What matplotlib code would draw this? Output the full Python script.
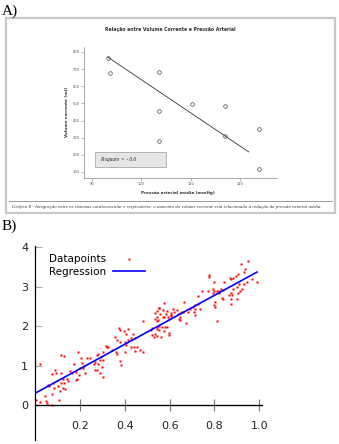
import matplotlib.pyplot as plt
from matplotlib.patches import Rectangle
from matplotlib.lines import Line2D

W, H = 339, 444

# ---- panel A data (SPSS screenshot) ----
pressao = [93.2, 93.6, 103.5, 103.5, 103.5, 110.2, 116.9, 116.9, 123.7, 123.7]
volume = [765, 677, 683, 453, 281, 497, 485, 310, 351, 117]
ajuste_x = [93.2, 121.7]
ajuste_y = [770, 217]
a_xticks = [90, 100, 110, 120]
a_yticks = [100, 200, 300, 400, 500, 600, 700, 800]
titulo_a = "Relação entre Volume Corrente e Pressão Arterial"
legenda_a = ("Gráfico 8 - Integração entre os sistemas cardiovascular e respiratório: "
             "o aumento do volume corrente está relacionado à redução da pressão arterial média.")

# ---- panel B data ----
b_x = [0.004, 0.02, 0.02, 0.044, 0.048, 0.051, 0.058, 0.063, 0.074, 0.076,
       0.076, 0.081, 0.084, 0.088, 0.093, 0.103, 0.108, 0.111, 0.114, 0.114,
       0.115, 0.123, 0.123, 0.129, 0.129, 0.133, 0.141, 0.148, 0.155, 0.163,
       0.173, 0.182, 0.188, 0.182, 0.19, 0.194, 0.20, 0.208, 0.215, 0.218,
       0.204, 0.222, 0.23, 0.245, 0.263, 0.267, 0.275, 0.267, 0.282, 0.275,
       0.279, 0.289, 0.297, 0.289, 0.301, 0.304, 0.304, 0.292, 0.316, 0.319,
       0.326, 0.342, 0.361, 0.364, 0.379, 0.383, 0.401, 0.405, 0.428, 0.483,
       0.446, 0.442, 0.456, 0.468, 0.358, 0.364, 0.379, 0.401, 0.416, 0.375,
       0.379, 0.396, 0.414, 0.405, 0.435, 0.428, 0.446, 0.483, 0.517, 0.535,
       0.542, 0.563, 0.52, 0.542, 0.553, 0.565, 0.58, 0.59, 0.542, 0.553,
       0.575, 0.596, 0.597, 0.52, 0.53, 0.535, 0.545, 0.554, 0.572, 0.557,
       0.583, 0.606, 0.62, 0.634, 0.646, 0.542, 0.569, 0.548, 0.599, 0.646,
       0.576, 0.664, 0.617, 0.638, 0.641, 0.654, 0.661, 0.681, 0.675, 0.691,
       0.713, 0.734, 0.703, 0.713, 0.727, 0.725, 0.715, 0.71, 0.746, 0.773,
       0.775, 0.776, 0.798, 0.792, 0.80, 0.81, 0.82, 0.828, 0.837, 0.795,
       0.822, 0.80, 0.803, 0.804, 0.81, 0.834, 0.837, 0.843, 0.87, 0.874,
       0.883, 0.896, 0.904, 0.919, 0.949, 0.937, 0.932, 0.967, 0.989, 0.946,
       0.931, 0.91, 0.90, 0.922, 0.914, 0.883, 0.904, 0.873, 0.865, 0.877,
       0.902, 0.873, 0.873, 0.553, 0.587, 0.606, 0.605, 0.646, 0.594, 0.575,
       0.535, 0.542]
b_y = [0.12, 0.08, 1.04, 0.23, 0.11, 0.06, 0.52, 0.49, 0.27, 0.78,
       0.0, 0.56, 0.44, 0.90, 0.80, 0.48, 0.13, 0.36, 0.82, 0.55,
       1.27, 0.44, 0.65, 1.24, 0.56, 0.40, 0.65, 0.62, 0.87, 0.82,
       1.04, 0.63, 0.65, 0.84, 1.35, 0.76, 0.93, 1.06, 0.95, 0.99,
       1.20, 0.80, 1.18, 1.18, 1.04, 0.90, 0.90, 1.10, 1.04, 1.27,
       1.29, 1.14, 0.97, 0.80, 0.72, 1.14, 1.35, 1.22, 1.49, 1.46,
       1.46, 1.39, 1.35, 1.29, 1.11, 1.01, 1.35, 1.52, 1.48, 1.35,
       1.37, 1.48, 1.46, 1.39, 1.73, 1.66, 1.60, 1.60, 1.65, 1.96,
       1.90, 1.87, 1.92, 1.80, 1.80, 1.69, 1.71, 2.14, 1.90, 1.79,
       1.75, 1.73, 1.94, 1.98, 2.00, 1.98, 1.97, 1.97, 1.92, 1.90,
       1.88, 1.82, 1.78, 1.77, 1.72, 2.34, 2.39, 2.45, 2.41, 2.30,
       2.30, 2.28, 2.36, 2.41, 2.34, 2.22, 2.22, 2.15, 2.19, 2.15,
       2.59, 2.60, 2.43, 2.30, 2.18, 2.35, 2.36, 2.36, 2.09, 2.43,
       2.43, 2.43, 2.49, 2.53, 2.55, 2.77, 2.28, 2.35, 2.89, 2.89,
       3.29, 3.25, 3.12, 2.93, 2.89, 2.89, 2.89, 2.93, 2.91, 2.85,
       2.84, 2.53, 2.49, 2.60, 2.13, 2.70, 2.68, 3.11, 3.22, 3.19,
       3.22, 3.27, 3.31, 3.57, 3.65, 3.44, 3.37, 3.19, 3.12, 3.12,
       3.07, 3.06, 3.00, 2.93, 2.89, 2.94, 2.85, 2.84, 2.80, 2.80,
       2.68, 2.68, 2.55, 2.47, 2.38, 2.32, 2.25, 2.22, 2.22, 2.22,
       2.17, 2.13]
reg_x = [0.0, 0.99]
reg_y = [0.30, 3.37]
b_xticks = [0.2, 0.4, 0.6, 0.8, 1.0]
b_yticks = [0, 1, 2, 3, 4]


def fx(x):
    return x / W


def fy(y):
    return 1 - y / H


fig = plt.figure(figsize=(W / 100, H / 100), dpi=100)

# panel labels
fig.text(fx(2), fy(15), "A)", family="Liberation Serif", fontsize=11, va="baseline")
fig.text(fx(2), fy(230), "B)", family="Liberation Serif", fontsize=11, va="baseline")

# frame of the screenshot
fig.add_artist(Rectangle((fx(6), fy(213)), (335 - 6) / W, (213 - 18) / H,
                         transform=fig.transFigure, fill=False, ec="#c8c8c8", lw=1.6))
fig.add_artist(Line2D([fx(9), fx(332)], [fy(201), fy(201)],
                      transform=fig.transFigure, color="#8a8a8a", lw=0.6))
fig.text(fx(12), fy(207), legenda_a, fontsize=3.5, style="italic",
         family="Liberation Serif", va="center", color="#333333")

# ---- panel A ----
axA = fig.add_axes([fx(84), fy(178), (277 - 84) / W, (178 - 47) / H])
axA.plot(ajuste_x, ajuste_y, color="#333333", lw=0.6)
axA.plot(pressao, volume, "o", ms=2.6, mfc="none", mec="#444444", mew=0.5)
axA.set_xlim(88.4, 127.4)
axA.set_ylim(65, 829)
axA.set_xticks(a_xticks)
axA.set_yticks(a_yticks)
axA.tick_params(labelsize=2.6, labelcolor="#555555", length=2, width=0.4,
                color="#777777", pad=1.2)
for s in ["top", "right"]:
    axA.spines[s].set_visible(False)
for s in ["left", "bottom"]:
    axA.spines[s].set_color("#888888")
    axA.spines[s].set_linewidth(0.5)
axA.add_patch(Rectangle((0.057, 0.084), 0.368, 0.114, transform=axA.transAxes,
                        fc="#e6e6e6", ec="#999999", lw=0.5))
axA.text(0.083, 0.141, "R square = - 0.6", transform=axA.transAxes, fontsize=4,
         style="italic", family="Liberation Serif", va="center", color="#222222")
fig.text(fx(170), fy(30), titulo_a, ha="center", va="center", fontsize=3.35,
         weight="bold", color="#333333")
fig.text(fx(178), fy(193), "Pressão arterial média (mmHg)", ha="center",
         va="center", fontsize=3.0, weight="bold", color="#333333")
fig.text(fx(67), fy(112), "Volume corrente (ml)", ha="center", va="center",
         rotation=90, fontsize=3.0, weight="bold", color="#333333")

# ---- panel B ----
axB = fig.add_axes([fx(35.2), fy(440), (262 - 35.2) / W, (440 - 246) / H])
axB.plot(b_x, b_y, "s", ms=1.8, color="red", mec="none", label="Datapoints")
axB.plot(reg_x, reg_y, color="blue", lw=1.2, label="Regression")
axB.set_xlim(0, 1.012)
axB.set_ylim(-0.886, 4.03)
axB.set_xticks(b_xticks)
axB.set_xticklabels(["0.2", "0.4", "0.6", "0.8", "1.0"])
axB.set_yticks(b_yticks)
for s in ["top", "right"]:
    axB.spines[s].set_visible(False)
axB.spines["bottom"].set_position(("data", 0))
axB.spines["left"].set_linewidth(0.9)
axB.spines["bottom"].set_linewidth(0.9)
axB.spines["bottom"].set_linestyle((0, (1, 0.5)))
axB.tick_params(axis="y", direction="in", length=5, width=0.8, color="#aaaaaa",
                labelsize=8, labelcolor="#222222", pad=5)
axB.tick_params(axis="x", direction="inout", length=8.5, width=0.8, color="#777777",
                labelsize=8, labelcolor="#222222", pad=7)
axB.legend(loc="upper right", bbox_to_anchor=(fx(145), fy(254.5)),
           bbox_transform=fig.transFigure, frameon=False, markerfirst=False,
           fontsize=7.5, numpoints=1, handlelength=3.1, handletextpad=0.65,
           labelspacing=0.25, borderpad=0, borderaxespad=0, markerscale=0.9)

fig.savefig("out.png", dpi=100)
